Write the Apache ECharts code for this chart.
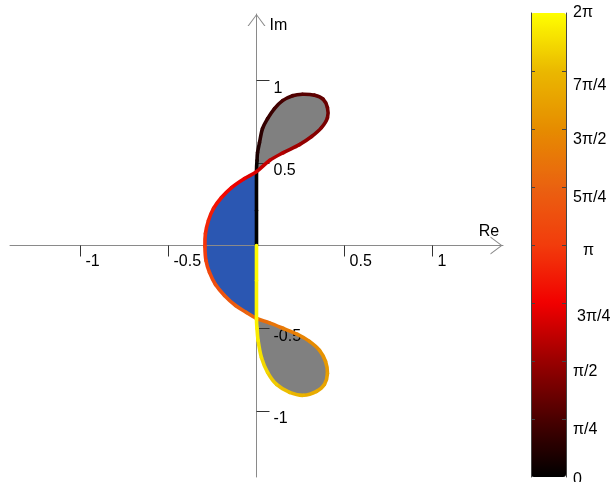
<!DOCTYPE html>
<html>
<head>
<meta charset="utf-8">
<script src="https://cdn.jsdelivr.net/npm/echarts@6/dist/echarts.min.js"></script>
<style>
  html, body { margin: 0; padding: 0; background: #ffffff; }
  #chart { width: 611px; height: 482px; }
</style>
</head>
<body>
<div id="chart"></div>
<script>
const PI = Math.PI;

// Closed curve in the complex plane, traced from the origin and back.
// Real part, imaginary part and the parameter (0..2π) that sets its colour.
const curveRe = [
  0, 0, 0, 0.003, 0.006, 0.017, 0.034, 0.063, 0.102, 0.148,
  0.205, 0.261, 0.330, 0.378, 0.403, 0.403, 0.369, 0.313, 0.244, 0.153,
  0.074, 0, -0.068, -0.142, -0.199, -0.244, -0.273, -0.290, -0.293, -0.287,
  -0.267, -0.233, -0.182, -0.119, -0.057, 0, 0.074, 0.153, 0.233, 0.301,
  0.358, 0.392, 0.403, 0.386, 0.341, 0.267, 0.188, 0.114, 0.063, 0.028,
  0.009, 0.003, 0, 0, 0
];
const curveIm = [
  0, 0.211, 0.447, 0.514, 0.562, 0.622, 0.707, 0.767, 0.828, 0.876,
  0.906, 0.915, 0.909, 0.885, 0.834, 0.773, 0.713, 0.659, 0.610, 0.562,
  0.514, 0.447, 0.405, 0.350, 0.290, 0.224, 0.151, 0.073, -0.006, -0.091,
  -0.163, -0.236, -0.302, -0.363, -0.405, -0.441, -0.468, -0.502, -0.538, -0.580,
  -0.634, -0.701, -0.773, -0.840, -0.882, -0.906, -0.888, -0.840, -0.767, -0.677,
  -0.574, -0.502, -0.441, -0.211, 0
];
const curvePhase = [
  0, 0.04, 0.10, 0.25, 0.35, 0.45, 0.55, 0.62, 0.70, 0.78,
  0.85, 0.92, 1.00, 1.08, 1.16, 1.25, 1.36, 1.48, 1.62, 1.80,
  1.98, 2.15, 2.30, 2.45, 2.58, 2.72, 2.86, 3.00, 3.14, 3.30,
  3.44, 3.58, 3.72, 3.86, 4.00, 4.13, 4.28, 4.42, 4.56, 4.70,
  4.83, 4.95, 5.06, 5.17, 5.28, 5.42, 5.56, 5.70, 5.84, 5.96,
  6.06, 6.12, 6.16, 6.24, 2 * PI
];

// Axis ticks
const reTicks = [-1, -0.5, 0.5, 1];
const imTicks = [-1, -0.5, 0.5, 1];
const phaseTicks = [0, PI / 4, PI / 2, 3 * PI / 4, PI, 5 * PI / 4, 3 * PI / 2, 7 * PI / 4, 2 * PI];
const phaseLabels = ['0', 'π/4', 'π/2', '3π/4', 'π', '5π/4', '3π/2', '7π/4', '2π'];

// Colour map for the phase, one stop per π/4
const PHASE_COLORS = [
  '#000000', '#4a0000', '#9a0000', '#f20000', '#f23c0c',
  '#ea6210', '#e68c00', '#eab800', '#ffff00'
];

const FONT = '"Liberation Sans", Arial, sans-serif';
const AXIS_GRAY = '#8a8a8a';
const TICK_DARK = '#333333';
const LOOP_GRAY = '#808080';
const INNER_BLUE = '#2b57b2';
const CHEVRON = 'path://M0,12 L9,0 L18,12 L16.7,12 L9,1.6 L1.3,12 Z';

// Plot area and its value range
const PLOT = { left: 10, top: 14, width: 493, height: 463 };
const RANGE = { min: -1.4, max: 1.4 };
// Shift the axes from the plot edges to pass through the origin
const X_AXIS_SHIFT = -PLOT.height * (0 - RANGE.min) / (RANGE.max - RANGE.min);
const Y_AXIS_SHIFT = -PLOT.width * (0 - RANGE.min) / (RANGE.max - RANGE.min);

// Points where the curve passes the same place twice
function findCrossings() {
  const last = curveRe.length - 1;
  const pairs = [];
  for (let j = 1; j < last; j++) {
    for (let i = 1; i < j; i++) {
      if (curveRe[i] === curveRe[j] && curveIm[i] === curveIm[j]) pairs.push([i, j]);
    }
  }
  return pairs.sort((a, b) => a[0] - b[0]);
}
const crossings = findCrossings();
const c1 = crossings[0][0], c2 = crossings[0][1];
const c3 = crossings[1][0], c4 = crossings[1][1];
const lastIdx = curveRe.length - 1;

// Regions enclosed by the curve, as ranges of curve segments
const regions = [
  { ranges: [[c1, c2]], color: LOOP_GRAY },
  { ranges: [[0, c1], [c2, c3], [c4, lastIdx]], color: INNER_BLUE },
  { ranges: [[c3, c4]], color: LOOP_GRAY }
];

function pixelCurve(api) {
  return curveRe.map((r, i) => api.coord([r, curveIm[i]]));
}

// Cubic Bezier pieces through the points (closed loop: last point equals first)
function segmentControls(pts, i) {
  const n = pts.length - 1;
  const p0 = pts[(i - 1 + n) % n];
  const p1 = pts[i];
  const p2 = pts[i + 1];
  const p3 = pts[(i + 2) % n];
  return {
    x1: p1[0], y1: p1[1], x2: p2[0], y2: p2[1],
    cpx1: p1[0] + (p2[0] - p0[0]) / 6, cpy1: p1[1] + (p2[1] - p0[1]) / 6,
    cpx2: p2[0] - (p3[0] - p1[0]) / 6, cpy2: p2[1] - (p3[1] - p1[1]) / 6
  };
}

function bezierAt(s, t) {
  const u = 1 - t;
  const a = u * u * u, b = 3 * u * u * t, c = 3 * u * t * t, d = t * t * t;
  return [
    a * s.x1 + b * s.cpx1 + c * s.cpx2 + d * s.x2,
    a * s.y1 + b * s.cpy1 + c * s.cpy2 + d * s.y2
  ];
}

function renderRegion(params, api) {
  const region = regions[params.dataIndex];
  const pts = pixelCurve(api);
  const outline = [];
  region.ranges.forEach(([a, b]) => {
    for (let i = a; i < b; i++) {
      const s = segmentControls(pts, i);
      for (let k = 0; k < 10; k++) outline.push(bezierAt(s, k / 10));
    }
  });
  return {
    type: 'polygon',
    shape: { points: outline },
    style: { fill: region.color, stroke: null }
  };
}

function renderSegment(params, api) {
  const i = params.dataIndex;
  if (i >= lastIdx) return null;
  const pts = pixelCurve(api);
  return {
    type: 'bezierCurve',
    shape: segmentControls(pts, i),
    style: { stroke: api.visual('color'), lineWidth: 3.6, fill: null, lineCap: 'round' }
  };
}

const chart = echarts.init(document.getElementById('chart'), null, { renderer: 'canvas' });

const labelBase = { fontSize: 16, fontFamily: FONT, color: '#000' };

const option = {
  animation: false,
  backgroundColor: '#ffffff',
  grid: [
    Object.assign({ outerBoundsMode: 'none' }, PLOT),
    { left: 531, top: 13, width: 35, height: 464, outerBoundsMode: 'none' }
  ],
  xAxis: [
    {
      type: 'value', gridIndex: 0, min: RANGE.min, max: RANGE.max, z: 3,
      position: 'bottom', offset: X_AXIS_SHIFT,
      name: 'Re', nameLocation: 'end', nameGap: -14,
      nameTextStyle: Object.assign({ align: 'center', verticalAlign: 'bottom', padding: [0, 0, 6, 0] }, labelBase),
      axisLine: {
        onZero: false, lineStyle: { color: AXIS_GRAY, width: 1 },
        symbol: ['none', CHEVRON], symbolSize: [18, 13], symbolOffset: [0, -6.5]
      },
      axisTick: { customValues: reTicks, length: 11, lineStyle: { color: TICK_DARK } },
      axisLabel: Object.assign({
        customValues: reTicks, align: 'left', verticalAlign: 'top', margin: 8, padding: [0, 0, 0, 5],
        formatter: (v) => String(v)
      }, labelBase),
      splitLine: { show: false }
    },
    { type: 'value', gridIndex: 1, min: 0, max: 1, show: false }
  ],
  yAxis: [
    {
      type: 'value', gridIndex: 0, min: RANGE.min, max: RANGE.max, z: 3,
      position: 'left', offset: Y_AXIS_SHIFT,
      name: 'Im', nameLocation: 'end', nameGap: -12,
      nameTextStyle: Object.assign({ align: 'left', verticalAlign: 'middle', padding: [0, 0, 0, 13] }, labelBase),
      axisLine: {
        onZero: false, lineStyle: { color: AXIS_GRAY, width: 1 },
        symbol: ['none', CHEVRON], symbolSize: [18, 12], symbolOffset: [0, -6]
      },
      axisTick: { customValues: imTicks, inside: true, length: 13, lineStyle: { color: TICK_DARK } },
      axisLabel: Object.assign({
        customValues: imTicks, inside: true, align: 'left', verticalAlign: 'top', margin: 17,
        formatter: (v) => String(v)
      }, labelBase),
      splitLine: { show: false }
    },
    {
      type: 'value', gridIndex: 1, min: 0, max: 2 * PI, position: 'left', z: 10,
      axisLine: { show: true, lineStyle: { color: '#444444', width: 1 } },
      axisTick: { customValues: phaseTicks.slice(1, -1), inside: true, length: 4, lineStyle: { color: '#444444' } },
      axisLabel: { show: false },
      splitLine: { show: false }
    },
    {
      type: 'value', gridIndex: 1, min: 0, max: 2 * PI, position: 'right', z: 10,
      axisLine: { show: true, lineStyle: { color: '#444444', width: 1 } },
      axisTick: { customValues: phaseTicks.slice(1, -1), inside: true, length: 4, lineStyle: { color: '#444444' } },
      axisLabel: Object.assign({
        customValues: phaseTicks, margin: 7, align: 'left', verticalAlign: 'middle',
        formatter: (v) => {
          const k = Math.round(v / (PI / 4));
          const key = k === 8 ? 'top' : k === 0 ? 'bot' : k === 4 ? 'pi' : k === 3 ? 'tq' : k === 7 ? 'hi' : 'mid';
          return '{' + key + '|' + phaseLabels[k] + '}';
        },
        rich: {
          mid: Object.assign({ padding: [22, 0, 0, 0] }, labelBase),
          hi: Object.assign({ padding: [30, 0, 0, 0] }, labelBase),
          top: Object.assign({ padding: [0, 0, 0, 0] }, labelBase),
          bot: Object.assign({ padding: [6, 0, 0, 0] }, labelBase),
          pi: Object.assign({ padding: [12, 0, 0, 10] }, labelBase),
          tq: Object.assign({ padding: [28, 0, 0, 4] }, labelBase)
        }
      }, labelBase),
      splitLine: { show: false }
    }
  ],
  visualMap: {
    type: 'continuous',
    min: 0, max: 2 * PI,
    dimension: 2,
    seriesIndex: 1,
    left: 531, top: 13,
    itemWidth: 35, itemHeight: 464,
    padding: 0,
    calculable: false,
    showLabel: false,
    hoverLink: false,
    inRange: { color: PHASE_COLORS }
  },
  series: [
    {
      type: 'custom',
      name: 'regions',
      coordinateSystem: 'cartesian2d',
      xAxisIndex: 0, yAxisIndex: 0,
      z: 2,
      silent: true,
      data: regions.map((r, i) => [0, 0, i]),
      renderItem: renderRegion
    },
    {
      type: 'custom',
      name: 'curve',
      coordinateSystem: 'cartesian2d',
      xAxisIndex: 0, yAxisIndex: 0,
      z: 5,
      silent: true,
      encode: { x: 0, y: 1 },
      data: curveRe.map((r, i) => [r, curveIm[i], curvePhase[i]]),
      renderItem: renderSegment
    }
  ]
};

chart.setOption(option);
</script>
</body>
</html>
